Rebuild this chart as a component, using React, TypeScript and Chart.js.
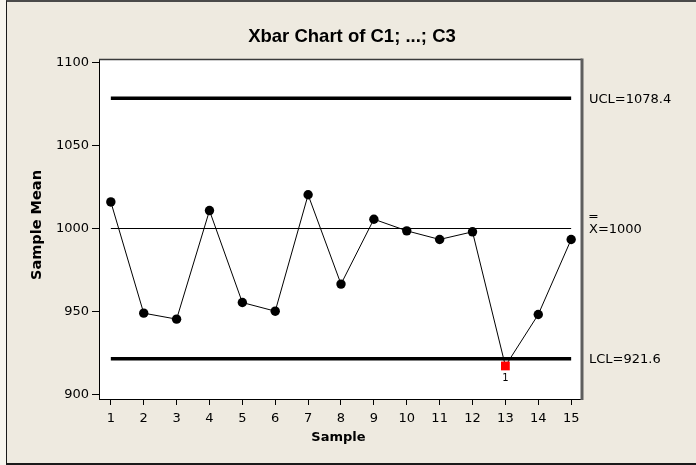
import { useEffect, useRef } from "react";
import { Chart, registerables } from "chart.js";

Chart.register(...registerables);

// Subgroup numbers and their means
const samples = [1, 2, 3, 4, 5, 6, 7, 8, 9, 10, 11, 12, 13, 14, 15];
const sampleMeans = [1016, 949, 945.4, 1010.8, 955.4, 950.2, 1020.3, 966.5, 1005.6, 998.6, 993.4, 998, 917.2, 948.2, 993.4];

// Control limits
const ucl = 1078.4;
const centerLine = 1000;
const lcl = 921.6;

// Axis ticks
const meanTicks = [900, 950, 1000, 1050, 1100];
const sampleTicks = samples;

// Samples failing test 1 (beyond a control limit)
const flaggedSamples = [13];
const flagLabel = "1";

const chartTitle = "Xbar Chart of C1; ...; C3";
const xTitle = "Sample";
const yTitle = "Sample Mean";

const TICK_FONT = '"DejaVu Sans", sans-serif';
const BOLD_FONT = '"Liberation Sans", Arial, sans-serif';
const AXIS_TITLE_FONT = '"DejaVu Sans", sans-serif';

const limitLine = (value: number, width: number) => ({
  data: [
    { x: samples[0], y: value },
    { x: samples[samples.length - 1], y: value },
  ],
  borderColor: "#000",
  borderWidth: width,
  pointRadius: 0,
  fill: false,
  tension: 0,
});

const decorations = {
  id: "decorations",
  beforeDraw(chart: any) {
    const { ctx, chartArea: a } = chart;
    ctx.save();
    ctx.fillStyle = "#ffffff";
    ctx.fillRect(a.left, a.top, a.right - a.left, a.bottom - a.top);
    ctx.restore();
  },
  afterDraw(chart: any) {
    const { ctx, chartArea: a, scales } = chart;
    const ys = scales.y;
    const xs = scales.x;
    ctx.save();

    // top and right edges of the plot frame
    ctx.strokeStyle = "#3a3a3a";
    ctx.lineWidth = 1.5;
    ctx.beginPath();
    ctx.moveTo(a.left, a.top + 0.5);
    ctx.lineTo(a.right, a.top + 0.5);
    ctx.stroke();
    ctx.strokeStyle = "#5e5e5e";
    ctx.lineWidth = 3;
    ctx.beginPath();
    ctx.moveTo(a.right, a.top - 0.5);
    ctx.lineTo(a.right, a.bottom + 1);
    ctx.stroke();

    // titles
    ctx.fillStyle = "#000";
    ctx.textAlign = "center";
    ctx.textBaseline = "middle";
    ctx.font = `bold 18.5px ${BOLD_FONT}`;
    ctx.fillText(chartTitle, 352, 37);
    ctx.font = `bold 13px ${AXIS_TITLE_FONT}`;
    ctx.fillText(xTitle, (a.left + a.right) / 2 - 2, 438);
    ctx.save();
    ctx.translate(37, (a.top + a.bottom) / 2 - 4);
    ctx.rotate(-Math.PI / 2);
    ctx.font = `bold 14.5px ${AXIS_TITLE_FONT}`;
    ctx.fillText(yTitle, 0, 0);
    ctx.restore();

    // control limit labels
    ctx.font = `13px ${TICK_FONT}`;
    ctx.textAlign = "left";
    const lx = a.right + 7;
    ctx.fillText(`UCL=${ucl}`, lx, ys.getPixelForValue(ucl) + 1);
    const cy = ys.getPixelForValue(centerLine);
    ctx.fillText("X", lx, cy + 1);
    const xw = ctx.measureText("X").width;
    ctx.fillText(`=${centerLine}`, lx + xw, cy + 1);
    ctx.strokeStyle = "#000";
    ctx.lineWidth = 1;
    const barBase = Math.round(cy) + 0.5;
    for (const dy of [-14, -12]) {
      ctx.beginPath();
      ctx.moveTo(lx + 0.5, barBase + dy);
      ctx.lineTo(lx + xw - 0.5, barBase + dy);
      ctx.stroke();
    }
    ctx.fillText(`LCL=${lcl}`, lx, ys.getPixelForValue(lcl) + 1);

    // test failure markers
    ctx.font = `10px ${TICK_FONT}`;
    ctx.textAlign = "center";
    flaggedSamples.forEach((s) => {
      const i = samples.indexOf(s);
      ctx.fillText(flagLabel, xs.getPixelForValue(s), ys.getPixelForValue(sampleMeans[i]) + 12);
    });

    ctx.restore();
  },
};

export default function App() {
  const canvasRef = useRef<HTMLCanvasElement | null>(null);

  useEffect(() => {
    const canvas = canvasRef.current;
    if (!canvas) return;
    const isFlagged = (s: number) => flaggedSamples.includes(s);

    const chart = new Chart(canvas, {
      type: "line",
      data: {
        datasets: [
          {
            data: samples.map((s, i) => ({ x: s, y: sampleMeans[i] })),
            borderColor: "#000",
            borderWidth: 1,
            tension: 0,
            fill: false,
            pointStyle: samples.map((s) => (isFlagged(s) ? "rect" : "circle")),
            pointRadius: samples.map((s) => (isFlagged(s) ? 6.2 : 4.7)),
            pointBackgroundColor: samples.map((s) => (isFlagged(s) ? "#ff0000" : "#000")),
            pointBorderColor: samples.map((s) => (isFlagged(s) ? "#ff0000" : "#000")),
            pointBorderWidth: 0,
          },
          limitLine(centerLine, 1),
          limitLine(ucl, 3.5),
          limitLine(lcl, 3.5),
        ] as any,
      },
      options: {
        responsive: false,
        animation: false,
        devicePixelRatio: 1,
        events: [],
        layout: { padding: { left: 0, top: 59, right: 114, bottom: 0 } },
        plugins: {
          legend: { display: false },
          title: { display: false },
          tooltip: { enabled: false },
        },
        scales: {
          x: {
            type: "linear",
            min: 0.64,
            max: 15.33,
            afterFit: (scale: any) => {
              scale.height = 66;
            },
            afterBuildTicks: (scale: any) => {
              scale.ticks = sampleTicks.map((v) => ({ value: v }));
            },
            border: { display: true, color: "#000", width: 1 },
            grid: { drawOnChartArea: false, tickLength: 6, color: "#000" },
            ticks: {
              color: "#000",
              padding: 6,
              maxRotation: 0,
              autoSkip: false,
              font: { family: TICK_FONT, size: 13 },
              callback: (v: any) => String(v),
            },
          },
          y: {
            type: "linear",
            min: 897.3,
            max: 1102.1,
            afterFit: (scale: any) => {
              scale.width = 99;
            },
            afterBuildTicks: (scale: any) => {
              scale.ticks = meanTicks.map((v) => ({ value: v }));
            },
            border: { display: true, color: "#000", width: 1 },
            grid: { drawOnChartArea: false, tickLength: 7, color: "#000" },
            ticks: {
              color: "#000",
              padding: 3,
              font: { family: TICK_FONT, size: 13 },
              callback: (v: any) => String(v),
            },
          },
        },
      },
      plugins: [decorations],
    });

    return () => chart.destroy();
  }, []);

  return (
    <div
      style={{
        position: "absolute",
        left: 0,
        top: 0,
        width: 696,
        height: 465,
        background: "#f7f5ee",
        overflow: "hidden",
      }}
    >
      <div
        style={{
          position: "absolute",
          left: 6,
          top: 0,
          width: 700,
          height: 461,
          background: "#eeeae0",
          borderTop: "2px solid #4a4a4a",
          borderLeft: "1px solid #1a1a1a",
          borderBottom: "2px solid #1a1a1a",
        }}
      />
      <canvas
        ref={canvasRef}
        width={696}
        height={465}
        style={{ position: "absolute", left: 0, top: 0, display: "block" }}
      />
    </div>
  );
}
